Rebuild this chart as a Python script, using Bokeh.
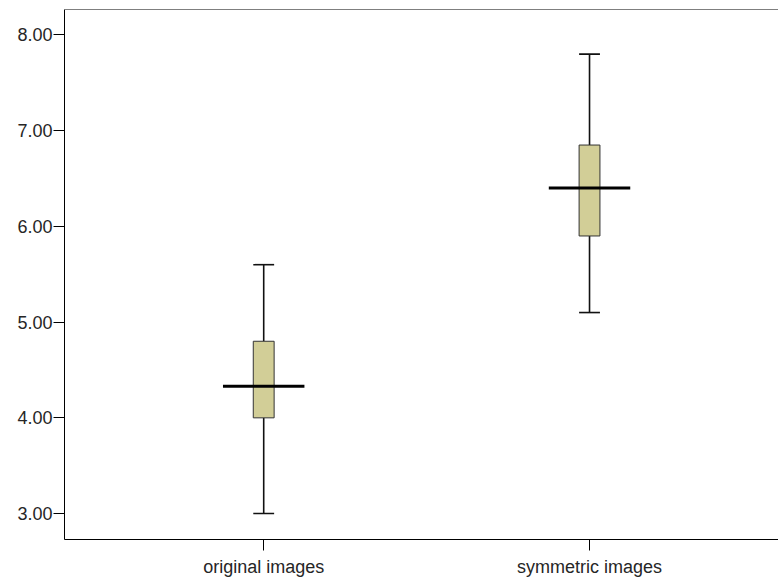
from bokeh.plotting import figure
from bokeh.models import FixedTicker, PrintfTickFormatter, Range1d, Span
from bokeh.embed import file_html
from bokeh.resources import INLINE

categories = ["original images", "symmetric images"]
positions = [1, 2]
minimum = [3.00, 5.10]
q1 = [4.00, 5.90]
median = [4.33, 6.40]
q3 = [4.80, 6.85]
maximum = [5.60, 7.80]
y_ticks = [3, 4, 5, 6, 7, 8]

BOX_W = 0.064
CAP_W = 0.064
MED_W = 0.25
Y_START, Y_END = 2.729, 8.266

p = figure(width=778, height=579, output_backend="svg", toolbar_location=None,
           x_range=Range1d(0.3886, 2.580), y_range=Range1d(Y_START, Y_END),
           min_border_left=64, min_border_right=0, min_border_top=9, min_border_bottom=39)
p.outline_line_color = None
p.xgrid.visible = False
p.ygrid.visible = False
p.background_fill_color = "white"
p.border_fill_color = "white"

# whiskers
p.segment(x0=positions, y0=minimum, x1=positions, y1=q1, line_color="#111111", line_width=1.6)
p.segment(x0=positions, y0=q3, x1=positions, y1=maximum, line_color="#111111", line_width=1.6)
# caps
left = [x - CAP_W / 2 for x in positions]
right = [x + CAP_W / 2 for x in positions]
p.segment(x0=left, y0=minimum, x1=right, y1=minimum, line_color="#111111", line_width=1.6)
p.segment(x0=left, y0=maximum, x1=right, y1=maximum, line_color="#111111", line_width=1.6)
# boxes
p.vbar(x=positions, width=BOX_W, bottom=q1, top=q3, fill_color="#D2CE97",
       line_color="#333333", line_width=1)
# medians
mleft = [x - MED_W / 2 for x in positions]
mright = [x + MED_W / 2 for x in positions]
p.segment(x0=mleft, y0=median, x1=mright, y1=median, line_color="black", line_width=3)

# top frame line
p.add_layout(Span(location=Y_END, dimension="width", line_color="black", line_width=1))

for ax in (p.xaxis[0], p.yaxis[0]):
    ax.axis_line_color = "black"
    ax.axis_line_width = 1
    ax.major_tick_line_color = "black"
    ax.major_tick_in = 0
    ax.major_tick_out = 11
    ax.minor_tick_line_color = None
    ax.major_label_text_font = "Liberation Sans"
    ax.major_label_text_font_size = "18px"
    ax.major_label_text_color = "#262626"

p.xaxis.ticker = FixedTicker(ticks=positions)
p.xaxis.major_label_overrides = {pos: c for pos, c in zip(positions, categories)}
p.xaxis.major_label_standoff = 6
p.yaxis.ticker = FixedTicker(ticks=y_ticks)
p.yaxis.formatter = PrintfTickFormatter(format="%.2f")
p.yaxis.major_label_standoff = 1

open("out.html", "w").write(file_html(p, INLINE))
